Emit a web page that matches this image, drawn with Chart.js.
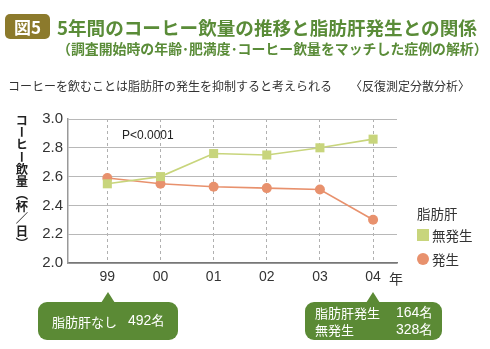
<!DOCTYPE html>
<html lang="ja">
<head>
  <meta charset="UTF-8" />
  <title>図5 コーヒー飲量と脂肪肝</title>
  <script src="https://cdn.jsdelivr.net/npm/chart.js@4.4.3"></script>
  <style>
    body { margin: 0; background: #fff; font-family: "Noto Sans CJK JP", sans-serif; }
    #wrap { position: relative; width: 490px; height: 349px; overflow: hidden; }
    #chart { position: absolute; left: 0; top: 0; }
    .abs { position: absolute; white-space: nowrap; }
    .badge {
      left: 5px; top: 14px; width: 45px; height: 25px; border-radius: 5px;
      background: #8c7a2c; color: #fff; font-weight: bold; font-size: 17px;
      line-height: 25px; text-align: center;
    }
    .title { left: 57px; top: 14px; color: #5a8c38; font-weight: bold; font-size: 18.6px; line-height: 26px; }
    .sub { left: 57px; top: 39px; color: #5a8c38; font-weight: bold; font-size: 13.9px; line-height: 18px; }
    .lead { left: 8px; top: 77px; color: #333; font-size: 12px; line-height: 18px; }
    .ytitle {
      left: 14px; top: 114px; writing-mode: vertical-rl; color: #222;
      font-size: 12.3px; line-height: 16px; font-weight: bold;
    }
    .pval { left: 122px; top: 128px; font-family: "Liberation Sans", Arial, sans-serif; font-size: 12px; color: #222; }
    .nen { left: 389px; top: 268px; font-size: 14px; color: #333; }
    .leg { font-size: 13.5px; color: #333; line-height: 18px; }
    .box {
      background: #5b8a35; color: #fff; border-radius: 9px; font-size: 13px; line-height: 17px;
    }
    .box::before {
      content: ""; position: absolute; top: -10px; border-left: 7px solid transparent;
      border-right: 7px solid transparent; border-bottom: 11px solid #5b8a35;
    }
    .box-left::before { left: 63px; }
    .box-right::before { left: 61px; }
    .num { font-family: "Liberation Sans", Arial, sans-serif; font-size: 14px; }
  </style>
</head>
<body>
<div id="wrap">
  <canvas id="chart" width="490" height="349"></canvas>
  <div class="abs badge">図5</div>
  <div class="abs title">5年間のコーヒー飲量の推移と脂肪肝発生との関係</div>
  <div class="abs sub">（調査開始時の年齢･肥満度･コーヒー飲量をマッチした症例の解析）</div>
  <div class="abs lead">コーヒーを飲むことは脂肪肝の発生を抑制すると考えられる　　〈反復測定分散分析〉</div>
  <div class="abs ytitle">コーヒー飲量（杯／日）</div>
  <div class="abs pval">P&lt;0.0001</div>
  <div class="abs nen">年</div>

  <div class="abs leg" style="left:417px; top:204px;">脂肪肝</div>
  <div class="abs" style="left:417px; top:229px; width:12px; height:12px; background:#c8d57c;"></div>
  <div class="abs leg" style="left:432px; top:226px;">無発生</div>
  <div class="abs" style="left:417px; top:253px; width:12px; height:12px; border-radius:50%; background:#e8916d;"></div>
  <div class="abs leg" style="left:432px; top:250px;">発生</div>

  <div class="abs box box-left" style="left:38px; top:302px; width:140px; height:38px;">
    <div class="abs" style="left:14px; top:11px;">脂肪肝なし</div>
    <div class="abs num" style="left:90px; top:10px;">492名</div>
  </div>
  <div class="abs box box-right" style="left:305px; top:302px; width:137px; height:38px;">
    <div class="abs" style="left:10px; top:2px;">脂肪肝発生</div>
    <div class="abs num" style="left:91px; top:2px;">164名</div>
    <div class="abs" style="left:10px; top:19px;">無発生</div>
    <div class="abs num" style="left:91px; top:19px;">328名</div>
  </div>
</div>

<script>
  // 年（1999〜2004）
  const years = ['99', '00', '01', '02', '03', '04'];
  // 脂肪肝 無発生 / 発生 のコーヒー飲量（杯/日）
  const noFattyLiver = [2.55, 2.60, 2.76, 2.75, 2.80, 2.86];
  const fattyLiver = [2.59, 2.55, 2.53, 2.52, 2.51, 2.30];
  const yTicks = [2.0, 2.2, 2.4, 2.6, 2.8, 3.0];

  const numFont = { family: '"Liberation Sans", Arial, sans-serif', size: 15 };
  const toPoints = arr => arr.map((v, i) => ({ x: i, y: v }));

  new Chart(document.getElementById('chart'), {
    type: 'line',
    data: {
      datasets: [
        {
          label: '無発生',
          data: toPoints(noFattyLiver),
          borderColor: '#c8d57c',
          backgroundColor: '#c8d57c',
          borderWidth: 1.6,
          pointStyle: 'rect',
          pointRadius: 6.4,
          pointBorderWidth: 0
        },
        {
          label: '発生',
          data: toPoints(fattyLiver),
          borderColor: '#e8916d',
          backgroundColor: '#e8916d',
          borderWidth: 1.6,
          pointStyle: 'circle',
          pointRadius: 5,
          pointBorderWidth: 0
        }
      ]
    },
    options: {
      responsive: false,
      animation: false,
      devicePixelRatio: 1,
      layout: { padding: { left: 28, top: 119, right: 93, bottom: 56 } },
      plugins: { legend: { display: false }, tooltip: { enabled: false } },
      scales: {
        x: {
          type: 'linear',
          min: -0.74,
          max: 5.45,
          afterBuildTicks: s => { s.ticks = years.map((_, i) => ({ value: i })); },
          afterFit: s => { s.height = 30; },
          ticks: {
            callback: v => years[v],
            autoSkip: false,
            maxRotation: 0,
            padding: 6,
            color: '#333',
            font: { family: numFont.family, size: 14 }
          },
          grid: { color: '#b0b0b0', lineWidth: 1, drawTicks: false },
          border: { color: '#777', width: 1.5, dash: [3, 3] }
        },
        y: {
          min: 2.0,
          max: 3.0,
          afterBuildTicks: s => { s.ticks = yTicks.map(v => ({ value: v })); },
          afterFit: s => { s.width = 40; },
          ticks: {
            callback: v => v.toFixed(1),
            padding: 5,
            color: '#333',
            font: numFont
          },
          grid: { color: '#b8b8b8', lineWidth: 1, drawTicks: false },
          border: { color: '#999', width: 1.5 }
        }
      }
    }
  });
</script>
</body>
</html>
